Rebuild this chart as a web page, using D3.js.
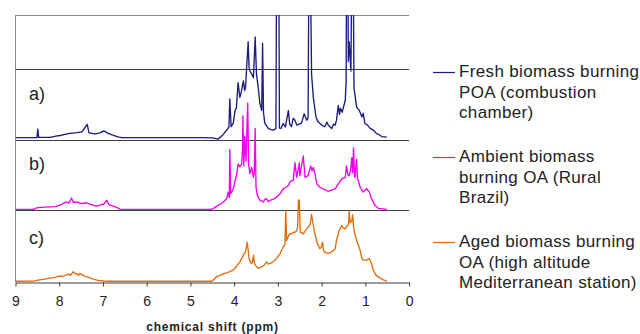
<!DOCTYPE html>
<html>
<head>
<meta charset="utf-8">
<script src="https://cdn.jsdelivr.net/npm/d3@7"></script>
<style>
  html, body { margin: 0; padding: 0; background: #fff; }
  svg { display: block; font-family: "Liberation Sans", Arial, sans-serif; }
</style>
</head>
<body>
<svg id="chart" width="640" height="334"></svg>
<script>
/* 1H-NMR spectra of biomass burning OA, stacked with offsets. */

// [ppm, intensity]
const freshPOA = [[9.00,0],[8.51,0],[8.49,12],[8.47,0.3],[8.21,0.3],[8.05,2.4],[7.98,3],[7.87,4.5],[7.76,6],[7.59,7],[7.48,8],[7.36,18.7],[7.32,6.6],[7.18,5.2],[7.07,6.6],[6.98,9.4],[6.88,5.9],[6.79,3.8],[6.66,1],[6.57,0],[4.78,0],[4.49,-0.4],[4.37,-2.2],[4.26,3.8],[4.17,10.7],[4.12,15],[4.10,55],[4.07,15.4],[4.02,20.5],[3.98,38.7],[3.95,41.5],[3.91,78],[3.87,57],[3.84,64],[3.79,80.5],[3.76,66.6],[3.74,71],[3.71,104],[3.68,136],[3.66,100],[3.64,94.5],[3.59,89],[3.56,85],[3.52,143],[3.49,90],[3.45,71],[3.41,48],[3.37,38.7],[3.35,134],[3.33,36],[3.30,20.5],[3.22,13],[3.16,11.4],[3.11,10.7],[3.06,12],[3.045,13.5],[3.03,260],[2.98,260],[2.965,13.5],[2.93,13],[2.88,20],[2.83,15],[2.76,38.7],[2.73,19],[2.69,15.4],[2.65,27.5],[2.61,24.7],[2.57,17.7],[2.52,19],[2.46,20.5],[2.40,34],[2.34,24.7],[2.31,27.5],[2.29,260],[2.26,260],[2.23,90],[2.19,57],[2.13,29.3],[2.08,22.3],[2.00,17.7],[1.93,15.4],[1.88,22],[1.85,17.7],[1.77,13],[1.73,19],[1.69,17.7],[1.66,24.7],[1.62,45.6],[1.59,33],[1.57,41.5],[1.53,36],[1.50,43.3],[1.46,52.6],[1.44,80.5],[1.43,260],[1.40,260],[1.39,108],[1.37,136],[1.33,94.5],[1.31,260],[1.28,260],[1.26,71],[1.20,43.3],[1.14,38.7],[1.08,29.3],[1.05,34.5],[1.01,20],[0.95,17.7],[0.89,13],[0.82,10.7],[0.74,5.2],[0.69,4.5],[0.63,1.4],[0.51,0.6]];

const ambientOA = [[9.00,0],[8.58,0],[8.52,2.2],[8.33,3.2],[8.21,3.6],[8.10,3.9],[7.98,6],[7.92,8.1],[7.83,10.6],[7.78,8.8],[7.72,16.2],[7.68,10.2],[7.60,10.6],[7.53,8.8],[7.45,8.4],[7.37,9.5],[7.30,7.4],[7.23,6],[7.14,4.6],[7.07,6],[6.99,7.4],[6.91,13],[6.87,7.4],[6.84,6],[6.77,4.6],[6.69,2.8],[6.61,0.4],[6.57,0],[4.53,0],[4.48,1.1],[4.41,3.9],[4.36,6],[4.30,8.1],[4.25,10.6],[4.17,15.4],[4.14,24.6],[4.11,17.2],[4.10,85],[4.08,22.3],[4.02,29.3],[3.98,40.9],[3.94,50.3],[3.91,64.2],[3.87,60.5],[3.83,64.2],[3.81,82.8],[3.80,133],[3.78,61.8],[3.76,104],[3.73,68.8],[3.69,151],[3.67,64.6],[3.64,50.7],[3.60,59.5],[3.56,45.5],[3.54,52],[3.52,115],[3.50,31.5],[3.47,20],[3.41,13],[3.33,10.6],[3.30,14.4],[3.26,15.4],[3.22,10.9],[3.18,13],[3.12,14.4],[3.07,15.4],[3.01,18.6],[2.95,22.3],[2.88,29.3],[2.83,31.1],[2.76,33.9],[2.73,38.5],[2.69,40.9],[2.65,40.9],[2.61,66.4],[2.57,45.5],[2.51,66.4],[2.50,47.9],[2.42,75.8],[2.38,45.5],[2.31,47.9],[2.25,61.8],[2.22,54.9],[2.19,59.5],[2.15,50.3],[2.11,36.3],[2.04,31.5],[1.98,29.7],[1.92,27.9],[1.85,25.5],[1.77,27.9],[1.69,29.3],[1.62,36.3],[1.54,43.3],[1.46,45.5],[1.43,61.8],[1.40,49.3],[1.37,47.9],[1.34,54.9],[1.31,73.4],[1.29,52.1],[1.27,87.4],[1.25,52.1],[1.24,45.5],[1.20,71.2],[1.18,43.7],[1.16,40.9],[1.12,31.5],[1.05,24.6],[1.01,26.9],[0.97,29.3],[0.94,26.9],[0.91,24.6],[0.86,15.4],[0.78,6],[0.70,1.4],[0.51,0]];

const agedOA = [[9.00,0],[8.58,0.3],[8.52,1.4],[8.37,2.8],[8.21,4.5],[8.10,5.6],[7.98,7.7],[7.92,7],[7.83,9.1],[7.78,10.5],[7.74,8.4],[7.68,13.7],[7.64,10.5],[7.60,11.2],[7.56,8.4],[7.53,11.2],[7.48,9.4],[7.44,7.7],[7.37,6.7],[7.30,4.9],[7.22,3.1],[7.11,1.4],[6.99,0.4],[6.84,0],[4.53,0],[4.48,1.4],[4.40,6.7],[4.32,8.4],[4.25,10.5],[4.17,11.9],[4.10,13.7],[4.04,15.4],[3.98,18.4],[3.93,23],[3.87,27.6],[3.79,37],[3.74,41.6],[3.70,55.6],[3.68,44],[3.66,32.4],[3.61,25.4],[3.58,27.2],[3.56,37],[3.54,27.2],[3.52,23],[3.45,18.4],[3.37,20.7],[3.32,22.3],[3.26,27.6],[3.22,24.4],[3.18,25.4],[3.12,27.2],[3.07,30],[3.01,34.2],[2.95,39.4],[2.88,48.6],[2.84,52.4],[2.82,99.8],[2.80,57.9],[2.77,62.5],[2.73,67.7],[2.69,67.3],[2.65,69.5],[2.61,69.5],[2.57,71.9],[2.55,76.5],[2.53,115],[2.51,115],[2.49,69.5],[2.46,69.1],[2.42,67.3],[2.34,74.3],[2.30,77.5],[2.26,81.2],[2.23,95.2],[2.20,83.1],[2.17,71.9],[2.11,55.6],[2.04,46.3],[2.00,49.5],[1.98,55.6],[1.96,45.4],[1.94,41.6],[1.85,39.4],[1.77,41.6],[1.69,46.3],[1.66,57.9],[1.60,71.9],[1.54,78.9],[1.51,76.1],[1.47,74.3],[1.41,78.9],[1.38,83.1],[1.37,99.8],[1.35,83.1],[1.31,85.9],[1.29,94.2],[1.27,76.5],[1.24,67.3],[1.20,57.9],[1.16,51],[1.12,44],[1.08,32.4],[1.05,30],[0.97,30],[0.91,32.4],[0.86,25.4],[0.82,16.1],[0.76,9.1],[0.70,5.9],[0.59,2.1],[0.51,0.4]];

const seriesData = [freshPOA, ambientOA, agedOA];
const seriesOffsets = [203, 101, -1];
const seriesColors = ["#1b1b80", "#f000f0", "#e36c0a"];
const panelLabels = ["a)", "b)", "c)"];
const legendLabels = [
  ["Fresh biomass burning", "POA (combustion", "chamber)"],
  ["Ambient biomass", "burning OA (Rural", "Brazil)"],
  ["Aged biomass burning", "OA (high altitude", "Mediterranean station)"]
];
const xTicks = [9, 8, 7, 6, 5, 4, 3, 2, 1, 0];
const gridValues = [100, 200, 300];
const xTitle = "chemical shift (ppm)";

(function () {
  "use strict";
  const svg = d3.select("#chart");
  const left = 15.5, right = 409.1, top = 15, bottom = 282;

  const x = d3.scaleLinear().domain([9, 0]).range([left, right]);
  const y = d3.scaleLinear().domain([-2, 377]).range([bottom, top]);

  svg.append("defs").append("clipPath").attr("id", "plotClip")
    .append("rect").attr("x", left).attr("y", top).attr("width", right - left).attr("height", bottom - top);

  // frame: top edge + left edge
  svg.append("line").attr("x1", left).attr("x2", right).attr("y1", top + 0.5).attr("y2", top + 0.5)
    .attr("stroke", "#8c8c8c").attr("stroke-width", 1);
  svg.append("line").attr("x1", left).attr("x2", left).attr("y1", top).attr("y2", bottom)
    .attr("stroke", "#8c8c8c").attr("stroke-width", 1);

  // horizontal separators
  svg.append("g").selectAll("line").data(gridValues).join("line")
    .attr("x1", left).attr("x2", right)
    .attr("y1", (d) => Math.round(y(d)) + 0.5).attr("y2", (d) => Math.round(y(d)) + 0.5)
    .attr("stroke", "#3c3c3c").attr("stroke-width", 1);

  // spectra
  const plot = svg.append("g").attr("clip-path", "url(#plotClip)");
  seriesData.forEach((data, i) => {
    const line = d3.line()
      .x((d) => x(d[0]))
      .y((d) => y(seriesOffsets[i] + d[1]));
    plot.append("path")
      .attr("d", line(data))
      .attr("fill", "none")
      .attr("stroke", seriesColors[i])
      .attr("stroke-width", 1.35)
      .attr("stroke-linejoin", "round");
  });

  // x axis
  const axis = svg.append("g").attr("transform", `translate(0,${bottom + 0.5})`)
    .call(d3.axisBottom(x).tickValues(xTicks).tickSize(4).tickSizeOuter(0).tickPadding(10).tickFormat(d3.format("d")));
  axis.select(".domain").attr("stroke", "#3c3c3c");
  axis.selectAll(".tick line").attr("stroke", "#3c3c3c");
  axis.selectAll(".tick text").attr("font-size", 14).attr("fill", "#222")
    .attr("font-family", "\"Liberation Sans\", Arial, sans-serif");

  svg.append("text").attr("x", 212.5).attr("y", 331).attr("text-anchor", "middle")
    .attr("font-size", 12).attr("font-weight", "bold").attr("fill", "#222")
    .attr("letter-spacing", 0.8)
    .text(xTitle);

  // panel labels
  const labelY = [100, 170, 244];
  svg.append("g").selectAll("text").data(panelLabels).join("text")
    .attr("x", 29).attr("y", (d, i) => labelY[i])
    .attr("font-size", 18).attr("fill", "#222")
    .text((d) => d);

  // legend
  const legendTop = [72.5, 157.5, 242.5];
  const legend = svg.append("g");
  legendLabels.forEach((lines, i) => {
    const g = legend.append("g").attr("transform", `translate(0,${legendTop[i]})`);
    g.append("line").attr("x1", 433).attr("x2", 455).attr("y1", 0).attr("y2", 0)
      .attr("stroke", seriesColors[i]).attr("stroke-width", 1.2);
    g.append("text").attr("x", 459).attr("y", 4.5)
      .attr("font-size", 17).attr("fill", "#222").attr("letter-spacing", 0.35)
      .selectAll("tspan").data(lines).join("tspan")
      .attr("x", 459).attr("dy", (d, j) => (j === 0 ? 0 : 20.5))
      .text((d) => d);
  });
})();
</script>
</body>
</html>
